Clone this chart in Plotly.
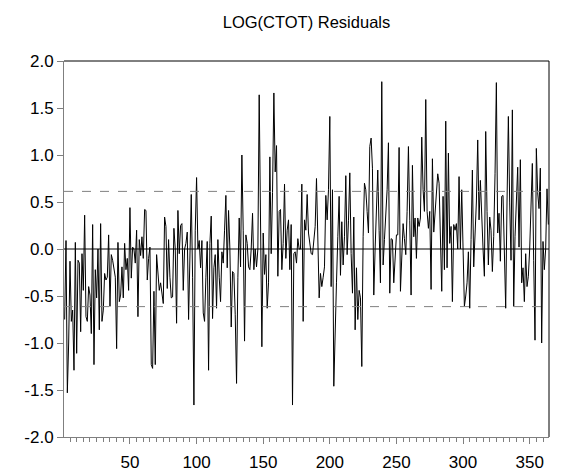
import plotly.graph_objects as go

title_text = "LOG(CTOT) Residuals"

residuals = [
    -0.75, 0.09, -1.53, -1.0, -0.13, -0.77, -0.65, -1.29, 0.07, -1.11,
    -0.12, -0.15, -0.88, -0.05, -0.44, 0.36, -0.72, -0.77, -0.4, -0.49,
    -0.9, 0.26, -1.23, -0.22, -0.52, 0.0, -0.86, 0.27, -0.77, -0.65,
    -0.26, -0.33, -0.3, 0.15, -0.61, -0.06, -0.12, -0.24, -0.3, -1.06,
    0.07, -0.56, -0.49, -0.19, -0.52, 0.06, -0.22, -0.1, -0.44, 0.44,
    -0.31, 0.02, 0.0, -0.15, 0.2, -0.72, 0.1, -0.07, 0.13, -0.1,
    0.42, 0.41, -0.33, -0.1, 0.02, -1.23, -1.27, -0.45, -1.23, -0.06,
    -0.22, -0.44, -0.36, -0.45, -0.58, 0.34, 0.24, -0.42, 0.1, -0.3,
    -0.52, -0.51, 0.22, 0.0, -0.79, 0.41, -0.05, 0.25, 0.27, -0.44,
    0.0, 0.06, 0.18, -0.75, 0.0, 0.58, -0.3, -1.66, 0.2, 0.76,
    0.0, 0.09, -0.2, 0.09, -0.68, -0.77, -0.3, 0.08, -1.29, 0.06,
    0.35, -0.74, -0.2, -0.06, -0.63, 0.1, -0.3, -0.56, -0.03, -0.15,
    0.2, 0.57, -0.2, 0.41, 0.0, -0.83, -0.24, -0.26, -0.7, -1.43,
    -0.3, 0.33, -0.19, 1.0, 0.2, -0.98, 0.15, 0.06, -0.19, -0.22,
    0.0, 0.38, -0.22, 0.0, -0.19, 0.0, 1.64, 0.3, -1.04, 0.17,
    -0.27, -0.06, -0.63, -0.36, 0.98, -0.05, 0.6, 1.66, 0.82, 1.1,
    -0.29, 0.4, 0.42, -0.22, 0.06, 0.69, -0.1, 0.2, 0.31, -0.22,
    0.26, -1.66, -0.05, -0.03, -0.15, 0.11, 0.0, 0.0, 0.69, -0.77,
    0.31, 0.2, 0.58, 0.17, 0.05, -0.05, -0.06, 0.1, 0.24, 0.75,
    0.1, -0.52, -0.26, -0.4, -0.3, -0.19, 0.57, 0.31, 0.63, 1.41,
    -0.4, 0.63, -1.46, -0.8, -0.36, 0.13, 0.56, -0.28, 0.29, -0.17,
    0.13, 0.78, -0.06, 0.3, 0.81, -0.05, -0.47, 0.34, -0.86, -0.2,
    -0.75, -0.44, -0.52, -1.25, 0.13, 0.7, 0.63, 0.4, 0.17, 1.09,
    1.18, 0.86, -0.49, 0.0, 0.4, 0.84, 0.2, -0.36, 1.78, -0.17,
    0.1, 0.31, 0.63, 1.13, -0.47, 0.11, 0.1, -0.36, -0.08, 0.15,
    0.15, 1.08, -0.45, 0.0, 0.27, 0.11, -0.06, 0.4, 1.09, 0.3,
    -0.49, 0.89, 0.13, 0.33, -0.1, 0.33, 0.24, 0.33, 1.19, 0.63,
    0.4, 1.59, 0.4, 0.22, 0.4, -0.43, 0.96, 0.18, 0.36, 0.63,
    0.8, 0.7, 0.1, -0.45, 0.56, -0.22, 1.36, -0.2, 1.02, 0.06,
    0.24, -0.56, 0.26, 0.2, 0.27, 0.0, 0.77, 0.0, 0.63, 0.0,
    -0.61, -0.5, -0.36, -0.03, -0.63, 0.1, 0.84, -0.19, 0.13, 0.5,
    1.16, 0.31, 0.73, 0.24, 0.0, -0.29, 1.25, 0.4, -0.17, 0.34,
    0.2, -0.24, 0.13, 0.8, 1.77, 0.17, 0.38, -0.13, 0.56, 0.57,
    0.0, -0.63, 0.5, 1.41, 0.49, -0.12, 1.48, -0.61, 0.13, 0.45,
    0.87, 0.02, 0.95, -0.36, -0.2, -0.56, -0.05, -0.4, -0.29, 0.0,
    0.5, 0.91, -0.12, -0.97, 1.07, 0.6, 0.43, 0.86, -1.0, 0.08,
    -0.22, 0.0, 0.64, 0.26,
]
obs = list(range(1, len(residuals) + 1))
band = 0.613
x_ticks = [50, 100, 150, 200, 250, 300, 350]
y_ticks = [-2.0, -1.5, -1.0, -0.5, 0.0, 0.5, 1.0, 1.5, 2.0]

font_family = "Liberation Sans, Arial, sans-serif"
axis_gray = "#7f7f7f"

# the page body adds an 8 px offset, so the figure is 8 px smaller each way
W, H = 555, 464

fig = go.Figure()
fig.add_trace(go.Scatter(
    x=obs, y=residuals, mode="lines",
    line=dict(color="black", width=1),
    hoverinfo="skip", showlegend=False,
))

fig.add_hline(y=0, line=dict(color="black", width=1))
fig.add_hline(y=band, line=dict(color="#808080", width=1, dash="dash"))
fig.add_hline(y=-band, line=dict(color="#808080", width=1, dash="dash"))

# top and right frame lines
fig.add_shape(type="line", xref="paper", yref="paper", x0=0, x1=1, y0=1, y1=1,
              line=dict(color="black", width=1))
fig.add_shape(type="line", xref="paper", yref="paper", x0=1, x1=1, y0=0, y1=1,
              line=dict(color="black", width=1))

fig.update_layout(
    template="none",
    width=W, height=H,
    margin=dict(l=56, r=14, t=53, b=35, autoexpand=False),
    paper_bgcolor="white", plot_bgcolor="white",
    font=dict(family=font_family, size=17, color="black"),
    title=dict(text=title_text, xref="paper", x=0.5, xanchor="center",
               yref="container", y=1 - 14 / H, yanchor="middle",
               font=dict(size=16.5, family=font_family, color="black")),
    showlegend=False,
)
fig.update_xaxes(
    automargin=False,
    range=[0.5, 364.5], showgrid=False, zeroline=False,
    showline=True, linecolor=axis_gray, linewidth=1,
    tickmode="array", tickvals=x_ticks, ticktext=[str(v) for v in x_ticks],
    ticks="outside", ticklen=6, tickcolor=axis_gray, tickwidth=1,
    ticklabelstandoff=4,
    minor=dict(dtick=5, tick0=0, ticks="outside", ticklen=4, tickcolor=axis_gray, showgrid=False),
    tickfont=dict(size=17),
)
fig.update_yaxes(
    automargin=False,
    range=[-2.0, 2.0], showgrid=False, zeroline=False,
    showline=True, linecolor=axis_gray, linewidth=1,
    tickmode="array", tickvals=y_ticks, ticktext=[f"{v:.1f}" for v in y_ticks],
    ticks="outside", ticklen=6, tickcolor=axis_gray, tickwidth=1,
    tickfont=dict(size=17),
)

fig.write_html("out.html")
